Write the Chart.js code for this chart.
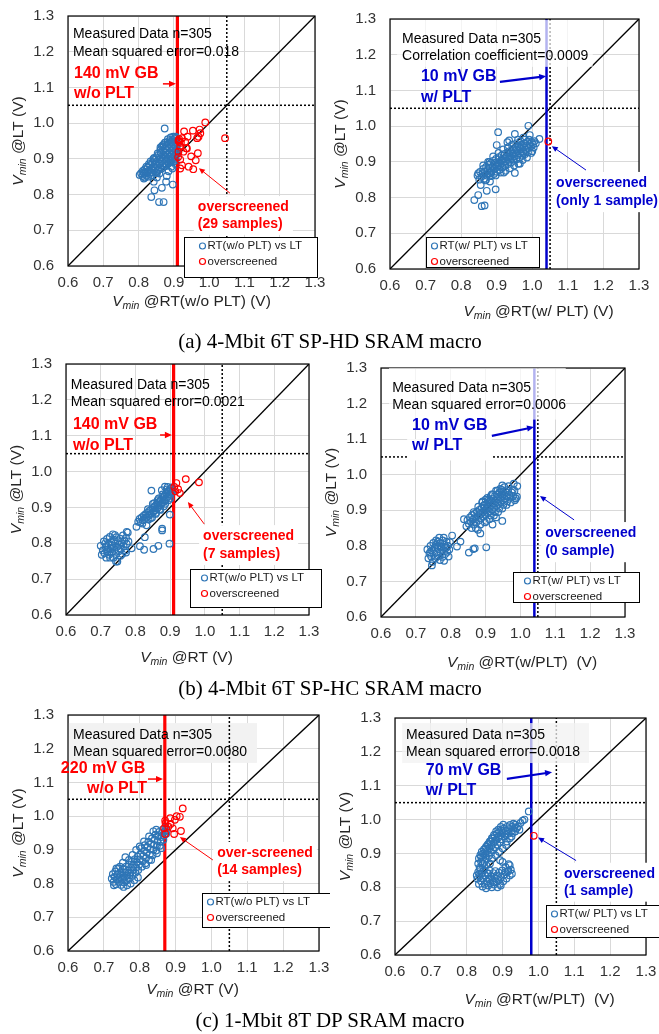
<!DOCTYPE html>
<html>
<head>
<meta charset="utf-8">
<script src="https://cdn.jsdelivr.net/npm/chart.js@4.4.1/dist/chart.umd.min.js"></script>
<style>
  body { margin: 0; width: 659px; height: 1034px; overflow: hidden; background: #fff; position: relative; }
  canvas { position: absolute; }
  .cap { position: absolute; left: 0; width: 660px; text-align: center; font: 21px "Liberation Serif", "Times New Roman", serif; color: #000; line-height: 24px; }
</style>
</head>
<body>
<canvas id="c1" width="330" height="345" style="left:0;top:0"></canvas>
<canvas id="c2" width="345" height="345" style="left:314px;top:0"></canvas>
<canvas id="c3" width="330" height="345" style="left:0;top:345px"></canvas>
<canvas id="c4" width="345" height="345" style="left:314px;top:345px"></canvas>
<canvas id="c5" width="330" height="345" style="left:0;top:690px"></canvas>
<canvas id="c6" width="345" height="345" style="left:314px;top:690px"></canvas>
<div class="cap" style="top:329px">(a) 4-Mbit 6T SP-HD SRAM macro</div>
<div class="cap" style="top:676px">(b) 4-Mbit 6T SP-HC SRAM macro</div>
<div class="cap" style="top:1008px">(c) 1-Mbit 8T DP SRAM macro</div>
<script>
// axis ticks (V)
const ticksV = [0.6, 0.7, 0.8, 0.9, 1.0, 1.1, 1.2, 1.3];
const specLimit = 1.05;
// guard-band lines: HD w/o, HD w/, HC w/o, HC w/, DP w/o, DP w/
const gbLines = [0.91, 1.04, 0.91, 1.04, 0.87, 0.98];

// (a) 4-Mbit 6T SP-HD, RT without PLT vs LT
const hdNoPlt = [
  [0.803,0.855],[0.807,0.860],[0.811,0.852],[0.812,0.866],[0.816,0.858],[0.818,0.871],[0.821,0.862],[0.823,0.853],
  [0.826,0.876],[0.828,0.866],[0.831,0.858],[0.833,0.882],[0.835,0.871],[0.837,0.862],[0.839,0.890],[0.841,0.878],
  [0.843,0.868],[0.845,0.897],[0.846,0.885],[0.848,0.874],[0.850,0.904],[0.851,0.892],[0.853,0.880],[0.855,0.869],
  [0.856,0.911],[0.858,0.899],[0.860,0.887],[0.861,0.876],[0.863,0.918],[0.864,0.905],[0.866,0.893],[0.867,0.882],
  [0.869,0.924],[0.870,0.912],[0.872,0.900],[0.873,0.888],[0.875,0.930],[0.876,0.918],[0.877,0.906],[0.879,0.894],
  [0.880,0.936],[0.881,0.924],[0.883,0.912],[0.884,0.900],[0.885,0.888],[0.886,0.942],[0.887,0.930],[0.889,0.918],
  [0.890,0.906],[0.891,0.894],[0.892,0.948],[0.893,0.936],[0.894,0.924],[0.895,0.912],[0.896,0.900],[0.897,0.953],
  [0.898,0.941],[0.899,0.929],[0.900,0.917],[0.901,0.905],[0.902,0.957],[0.903,0.946],[0.904,0.934],[0.905,0.922],
  [0.906,0.910],[0.907,0.960],[0.908,0.950],[0.909,0.938],[0.909,0.926],[0.910,0.915],[0.818,0.848],[0.829,0.885],
  [0.842,0.900],[0.852,0.860],[0.862,0.925],[0.871,0.940],[0.878,0.880],[0.888,0.952],[0.882,0.947],[0.874,0.945],
  [0.866,0.935],[0.874,0.985],[0.843,0.836],[0.845,0.812],[0.836,0.793],[0.858,0.779],[0.871,0.779],[0.866,0.819],
  [0.878,0.836],[0.880,0.852],[0.897,0.828],[0.896,0.873],[0.885,0.865],[0.859,0.859],[0.852,0.848],[0.905,0.885],
  [0.893,0.878],[0.815,0.845],[0.822,0.878],[0.827,0.850],[0.834,0.893],[0.838,0.855],[0.844,0.903],[0.849,0.862],
  [0.854,0.915],[0.857,0.870],[0.862,0.932],[0.865,0.872],[0.868,0.938],[0.871,0.878],[0.876,0.946],[0.879,0.884],
  [0.883,0.955],[0.887,0.890],[0.891,0.960],[0.894,0.895],[0.898,0.962],[0.900,0.893],[0.904,0.962],[0.906,0.898],
  [0.908,0.942],[0.898,0.918],[0.886,0.915],[0.874,0.910],[0.862,0.900],[0.850,0.885],[0.838,0.875],[0.826,0.862],
  [0.814,0.862]
];
const hdNoPltOver = [
  [0.989,1.002],[0.954,0.979],[0.973,0.982],[0.929,0.977],[0.939,0.962],[0.970,0.962],[1.045,0.958],[0.923,0.958],
  [0.913,0.951],[0.916,0.948],[0.918,0.934],[0.937,0.929],[0.927,0.920],[0.949,0.907],[0.968,0.916],[0.962,0.896],
  [0.918,0.898],[0.923,0.882],[0.918,0.873],[0.942,0.878],[0.955,0.871],[0.912,0.905],[0.913,0.920],[0.932,0.948],
  [0.975,0.972],[0.915,0.955],[0.920,0.945],[0.966,0.958],[0.935,0.930]
];
// (a) RT with PLT vs LT
const hdPlt = [
  [0.846,0.862],[0.851,0.850],[0.853,0.872],[0.857,0.858],[0.860,0.868],[0.862,0.880],[0.865,0.853],[0.867,0.873],
  [0.870,0.886],[0.872,0.862],[0.874,0.877],[0.877,0.892],[0.879,0.868],[0.881,0.882],[0.884,0.897],[0.886,0.874],
  [0.888,0.887],[0.890,0.903],[0.892,0.866],[0.894,0.880],[0.896,0.893],[0.898,0.908],[0.900,0.872],[0.902,0.886],
  [0.904,0.899],[0.906,0.913],[0.908,0.878],[0.910,0.891],[0.912,0.904],[0.914,0.918],[0.916,0.884],[0.918,0.897],
  [0.920,0.910],[0.922,0.922],[0.924,0.889],[0.926,0.902],[0.928,0.915],[0.930,0.927],[0.932,0.894],[0.934,0.906],
  [0.936,0.919],[0.938,0.931],[0.940,0.898],[0.942,0.911],[0.944,0.923],[0.946,0.936],[0.948,0.903],[0.950,0.915],
  [0.952,0.927],[0.954,0.940],[0.956,0.907],[0.958,0.919],[0.960,0.931],[0.962,0.944],[0.964,0.912],[0.966,0.924],
  [0.968,0.936],[0.970,0.948],[0.972,0.917],[0.974,0.929],[0.976,0.941],[0.978,0.952],[0.980,0.922],[0.982,0.934],
  [0.984,0.945],[0.986,0.956],[0.988,0.927],[0.990,0.939],[0.993,0.950],[0.996,0.944],[0.999,0.955],[1.002,0.949],
  [1.006,0.958],[1.010,0.952],[0.904,0.983],[0.989,1.001],[0.951,0.978],[0.993,0.975],[0.900,0.947],[0.858,0.776],
  [0.866,0.778],[0.837,0.793],[0.848,0.807],[0.872,0.819],[0.897,0.823],[0.881,0.845],[0.951,0.869],[0.848,0.868],
  [0.930,0.955],[0.960,0.962],[1.020,0.964],[0.880,0.900],[0.920,0.870],[0.965,0.895],[0.855,0.835],[0.870,0.850],
  [1.000,0.930],[0.935,0.960],[0.975,0.968],
  [0.862,0.890],[0.868,0.848],[0.876,0.900],[0.883,0.860],[0.890,0.915],[0.897,0.862],[0.905,0.925],[0.911,0.870],
  [0.918,0.935],[0.925,0.875],[0.931,0.940],[0.937,0.882],[0.943,0.948],[0.949,0.890],[0.955,0.952],[0.961,0.895],
  [0.967,0.958],[0.973,0.905],[0.979,0.962],[0.985,0.912],[0.991,0.962],[0.997,0.925],[1.004,0.940],[0.915,0.905],
  [0.945,0.925],[0.935,0.913],[0.955,0.935],[0.905,0.890],[0.925,0.900],[0.965,0.940],[0.975,0.925],[0.885,0.870]
];
const hdPltOver = [[1.045,0.957]];

// (b) 4-Mbit 6T SP-HC, RT without PLT vs LT
const hcNoPlt = [
  [0.700,0.793],[0.703,0.768],[0.706,0.780],[0.709,0.805],[0.711,0.772],[0.714,0.790],[0.716,0.760],[0.718,0.812],
  [0.720,0.782],[0.722,0.798],[0.724,0.768],[0.726,0.818],[0.728,0.786],[0.730,0.804],[0.732,0.774],[0.733,0.795],
  [0.735,0.825],[0.737,0.760],[0.738,0.810],[0.740,0.782],[0.742,0.800],[0.744,0.770],[0.745,0.817],[0.747,0.790],
  [0.748,0.749],[0.750,0.806],[0.752,0.778],[0.754,0.796],[0.756,0.813],[0.758,0.785],[0.760,0.800],[0.762,0.770],
  [0.764,0.822],[0.766,0.792],[0.768,0.808],[0.771,0.780],[0.773,0.815],[0.775,0.798],[0.778,0.830],[0.780,0.805],
  [0.713,0.800],[0.727,0.760],[0.741,0.823],[0.757,0.765],[0.719,0.776],[0.734,0.788],
  [0.808,0.860],[0.812,0.868],[0.815,0.858],[0.818,0.872],[0.821,0.864],[0.824,0.877],[0.826,0.867],[0.829,0.881],
  [0.832,0.872],[0.834,0.885],[0.837,0.876],[0.840,0.890],[0.842,0.880],[0.845,0.894],[0.847,0.884],[0.850,0.899],
  [0.852,0.888],[0.855,0.903],[0.857,0.892],[0.860,0.908],[0.862,0.897],[0.864,0.912],[0.866,0.901],[0.869,0.917],
  [0.871,0.906],[0.873,0.921],[0.875,0.910],[0.877,0.926],[0.879,0.914],[0.881,0.930],[0.883,0.919],[0.885,0.935],
  [0.887,0.923],[0.889,0.940],[0.891,0.928],[0.893,0.944],[0.895,0.932],[0.897,0.948],[0.899,0.936],[0.901,0.952],
  [0.903,0.941],[0.905,0.956],[0.907,0.945],[0.885,0.958],[0.876,0.948],[0.893,0.957],[0.860,0.885],[0.848,0.872],
  [0.870,0.895],[0.895,0.920],[0.838,0.866],[0.882,0.903],[0.867,0.925],[0.854,0.912],
  [0.846,0.947],[0.899,0.880],[0.877,0.841],[0.877,0.836],[0.827,0.817],[0.813,0.792],[0.825,0.782],[0.852,0.784],
  [0.866,0.793],[0.898,0.799],[0.789,0.786],[0.775,0.832],[0.803,0.846],[0.773,0.774],[0.744,0.749],[0.820,0.855],
  [0.832,0.850],[0.844,0.870],[0.858,0.882],[0.872,0.893],[0.886,0.910],[0.900,0.925],[0.878,0.936],[0.864,0.920],
  [0.850,0.910],[0.890,0.950],[0.836,0.895]
];
const hcNoPltOver = [[0.918,0.968],[0.945,0.979],[0.983,0.970],[0.912,0.957],[0.915,0.945],[0.923,0.951],[0.928,0.940]];
// (b) RT with PLT vs LT
const hcPlt = [
  [0.733,0.790],[0.736,0.765],[0.739,0.778],[0.742,0.800],[0.744,0.770],[0.746,0.787],[0.748,0.755],[0.750,0.808],
  [0.752,0.778],[0.754,0.795],[0.756,0.765],[0.758,0.815],[0.760,0.783],[0.762,0.800],[0.764,0.772],[0.765,0.792],
  [0.767,0.823],[0.769,0.760],[0.770,0.808],[0.772,0.781],[0.774,0.798],[0.776,0.769],[0.777,0.815],[0.779,0.788],
  [0.781,0.758],[0.782,0.803],[0.784,0.777],[0.786,0.794],[0.788,0.812],[0.790,0.783],[0.792,0.800],[0.794,0.770],
  [0.796,0.790],[0.798,0.810],[0.746,0.745],[0.757,0.803],[0.771,0.796],[0.780,0.823],[0.763,0.812],[0.741,0.782],
  [0.848,0.872],[0.852,0.862],[0.855,0.880],[0.858,0.868],[0.861,0.886],[0.863,0.874],[0.866,0.860],[0.868,0.890],
  [0.870,0.878],[0.873,0.866],[0.875,0.896],[0.877,0.884],[0.880,0.871],[0.882,0.901],[0.884,0.889],[0.886,0.877],
  [0.889,0.907],[0.891,0.894],[0.893,0.882],[0.895,0.912],[0.897,0.899],[0.899,0.887],[0.902,0.918],[0.904,0.905],
  [0.906,0.892],[0.908,0.923],[0.910,0.910],[0.912,0.897],[0.914,0.928],[0.917,0.915],[0.919,0.902],[0.921,0.933],
  [0.923,0.920],[0.925,0.907],[0.927,0.940],[0.929,0.926],[0.931,0.912],[0.933,0.945],[0.935,0.931],[0.937,0.918],
  [0.940,0.950],[0.942,0.936],[0.944,0.923],[0.946,0.957],[0.948,0.941],[0.950,0.928],[0.953,0.946],[0.955,0.933],
  [0.958,0.952],[0.961,0.939],[0.964,0.957],[0.968,0.945],[0.972,0.935],[0.975,0.950],[0.979,0.940],[0.983,0.955],
  [0.987,0.933],[0.990,0.938],[0.981,0.975],[0.991,0.968],[0.948,0.970],[0.915,0.940],[0.900,0.930],[0.890,0.922],
  [0.804,0.829],[0.828,0.812],[0.818,0.798],[0.852,0.781],[0.865,0.791],[0.869,0.793],[0.902,0.796],[0.885,0.835],
  [0.878,0.845],[0.948,0.870],[0.986,0.934],[0.838,0.875],[0.845,0.855],[0.920,0.860],[0.930,0.880],
  [0.860,0.850],[0.866,0.895],[0.872,0.850],[0.879,0.910],[0.885,0.860],[0.892,0.925],[0.898,0.866],[0.905,0.935],
  [0.911,0.875],[0.918,0.945],[0.924,0.885],[0.930,0.955],[0.936,0.895],[0.942,0.960],[0.948,0.905],[0.954,0.965],
  [0.960,0.915],[0.966,0.968],[0.972,0.922],[0.978,0.958],[0.984,0.928],[0.903,0.870],[0.915,0.885],[0.927,0.895],
  [0.939,0.905],[0.951,0.915],[0.962,0.925],[0.896,0.915],[0.909,0.930],[0.921,0.945],[0.934,0.955],[0.945,0.945]
];
const hcPltOver = [];

// (c) 1-Mbit 8T DP, RT without PLT vs LT
const dpNoPlt = [
  [0.722,0.815],[0.725,0.828],[0.727,0.805],[0.730,0.820],[0.732,0.836],[0.734,0.798],[0.736,0.812],[0.738,0.827],
  [0.740,0.845],[0.742,0.805],[0.744,0.819],[0.746,0.834],[0.748,0.796],[0.750,0.812],[0.752,0.826],[0.754,0.842],
  [0.756,0.803],[0.758,0.818],[0.760,0.833],[0.762,0.850],[0.764,0.810],[0.766,0.824],[0.768,0.840],[0.770,0.857],
  [0.772,0.815],[0.774,0.832],[0.776,0.848],[0.778,0.865],[0.780,0.823],[0.782,0.840],[0.784,0.856],[0.786,0.872],
  [0.788,0.832],[0.790,0.848],[0.792,0.864],[0.794,0.880],[0.796,0.840],[0.798,0.856],[0.800,0.872],[0.802,0.888],
  [0.804,0.905],[0.806,0.850],[0.808,0.866],[0.810,0.882],[0.812,0.898],[0.814,0.914],[0.816,0.860],[0.818,0.876],
  [0.820,0.892],[0.822,0.908],[0.824,0.924],[0.826,0.870],[0.828,0.886],[0.830,0.902],[0.832,0.918],[0.834,0.934],
  [0.836,0.884],[0.838,0.900],[0.840,0.915],[0.842,0.930],[0.844,0.945],[0.846,0.898],[0.848,0.912],[0.850,0.926],
  [0.852,0.940],[0.854,0.953],[0.856,0.912],[0.858,0.925],[0.860,0.938],[0.862,0.950],[0.864,0.960],[0.866,0.930],
  [0.868,0.943],[0.870,0.955],[0.872,0.966],[0.874,0.948],[0.876,0.958],[0.846,0.960],[0.838,0.955],
  [0.728,0.795],[0.735,0.845],[0.745,0.850],[0.755,0.790],[0.765,0.795],[0.775,0.800],[0.785,0.810],[0.795,0.818],
  [0.760,0.878],[0.753,0.862],[0.770,0.870],[0.780,0.885],[0.790,0.900],[0.800,0.910],[0.812,0.925],[0.826,0.940],
  [0.818,0.855],[0.832,0.870],[0.848,0.890],[0.860,0.905]
];
const dpNoPltOver = [
  [0.920,1.023],[0.912,0.998],[0.898,0.989],[0.885,0.994],[0.871,0.987],[0.872,0.979],[0.886,0.977],
  [0.880,0.969],[0.892,0.964],[0.871,0.947],[0.896,0.947],[0.915,0.956],[0.868,0.964],[0.903,1.000]
];
// (c) RT with PLT vs LT
const dpPlt = [
  [0.832,0.870],[0.834,0.885],[0.836,0.858],[0.838,0.895],[0.840,0.876],[0.842,0.905],[0.844,0.865],[0.846,0.888],
  [0.848,0.912],[0.850,0.875],[0.852,0.898],[0.854,0.920],[0.856,0.884],[0.858,0.907],[0.860,0.928],[0.862,0.893],
  [0.864,0.915],[0.866,0.936],[0.868,0.902],[0.870,0.924],[0.872,0.944],[0.874,0.910],[0.876,0.932],[0.878,0.952],
  [0.880,0.918],[0.882,0.940],[0.884,0.958],[0.886,0.926],[0.888,0.947],[0.890,0.963],[0.892,0.934],[0.894,0.954],
  [0.896,0.968],[0.898,0.942],[0.900,0.960],[0.903,0.973],[0.906,0.950],[0.909,0.966],[0.912,0.978],[0.915,0.958],
  [0.918,0.972],[0.921,0.984],[0.924,0.965],[0.927,0.979],[0.930,0.988],[0.933,0.975],[0.936,0.985],[0.920,0.945],
  [0.912,0.935],
  [0.830,0.825],[0.832,0.845],[0.834,0.810],[0.836,0.832],[0.838,0.855],[0.840,0.818],[0.842,0.840],[0.844,0.802],
  [0.846,0.826],[0.848,0.850],[0.850,0.810],[0.852,0.834],[0.854,0.797],[0.856,0.818],[0.858,0.842],[0.860,0.805],
  [0.862,0.826],[0.864,0.850],[0.866,0.812],[0.868,0.833],[0.870,0.800],[0.872,0.820],[0.874,0.842],[0.876,0.808],
  [0.878,0.828],[0.880,0.848],[0.882,0.815],[0.884,0.835],[0.886,0.800],[0.888,0.822],[0.890,0.843],[0.893,0.810],
  [0.896,0.830],[0.899,0.850],[0.902,0.818],[0.905,0.838],[0.908,0.860],[0.911,0.826],[0.914,0.846],[0.917,0.868],
  [0.920,0.835],[0.923,0.852],[0.900,0.875],[0.893,0.880],[0.855,0.865],[0.845,0.870],[0.865,0.870],
  [0.973,1.024],[0.961,1.000],[0.956,0.997],[0.947,0.970],[0.916,0.849],[0.940,0.975],[0.928,0.960],[0.950,0.990],
  [0.840,0.890],[0.846,0.900],[0.852,0.915],[0.858,0.925],[0.864,0.935],[0.870,0.945],[0.876,0.955],[0.882,0.965],
  [0.888,0.970],[0.895,0.978],[0.902,0.985],[0.908,0.955],[0.925,0.950],[0.935,0.965],[0.943,0.980],[0.870,0.885],
  [0.880,0.895],[0.890,0.905],[0.900,0.915],[0.910,0.925],[0.835,0.840],[0.828,0.835],[0.926,0.840],[0.920,0.865],
  [0.860,0.840],[0.875,0.815],[0.895,0.805],[0.908,0.845]
];
const dpPltOver = [[0.987,0.952]];

const FONT = '"Liberation Sans", Arial, sans-serif';
const RED = '#ff0000';
const NAVY = '#0000cc';
const DOT_BLUE = '#2e75b6';

const panels = [
  { id: 'c1', cx: 0, cy: 0, cw: 330, area: [68, 16, 315, 266], blue: hdNoPlt, red: hdNoPltOver, gb: gbLines[0], color: RED,
    xTitle: ' @RT(w/o PLT) (V)', xdx: 0, xdy: 36,
    info: ['Measured Data n=305', 'Mean squared error=0.018'], infoAt: [0.614, 1.250, 1.199], box: null,
    gbText: ['140 mV GB', 'w/o PLT'], gbAt: [[0.617, 1.140], [0.617, 1.082]], gbArrow: [0.869, 1.110, 0.906, 1.110], gbW: 1.5,
    osText: ['overscreened', '(29 samples)'], osAt: [0.968, 0.765, 0.718], osArrow: [1.059, 0.804, 0.971, 0.874],
    legend: [0.929, 0.681, 1.306, 0.569], legDx: 18, legLabel: 'RT(w/o PLT) vs LT' },
  { id: 'c2', cx: 314, cy: 0, cw: 345, area: [390, 19, 639, 269], blue: hdPlt, red: hdPltOver, gb: gbLines[1], color: NAVY,
    xTitle: ' @RT(w/ PLT) (V)', xdx: 24, xdy: 43,
    info: ['Measured Data n=305', 'Correlation coefficient=0.0009'], infoAt: [0.634, 1.244, 1.196],
    box: { r: [0.62, 1.297, 1.17, 1.166], fill: 'rgba(255,255,255,0.7)', over: true },
    gbText: ['10 mV GB', 'w/ PLT'], gbAt: [[0.687, 1.140], [0.687, 1.081]], gbArrow: [0.909, 1.124, 1.039, 1.140], gbW: 2.2,
    osText: ['overscreened', '(only 1 sample)'], osAt: [1.067, 0.841, 0.790], osArrow: [1.151, 0.877, 1.055, 0.944],
    legend: [0.701, 0.690, 1.019, 0.606], legDx: 8, legLabel: 'RT(w/ PLT) vs LT' },
  { id: 'c3', cx: 0, cy: 345, cw: 330, area: [66, 364, 309, 615], blue: hcNoPlt, red: hcNoPltOver, gb: gbLines[2], color: RED,
    xTitle: ' @RT (V)', xdx: -1, xdy: 43,
    info: ['Measured Data n=305', 'Mean squared error=0.0021'], infoAt: [0.614, 1.241, 1.194], box: null,
    gbText: ['140 mV GB', 'w/o PLT'], gbAt: [[0.620, 1.130], [0.620, 1.072]], gbArrow: [0.871, 1.102, 0.905, 1.102], gbW: 1.5,
    osText: ['overscreened', '(7 samples)'], osAt: [0.995, 0.820, 0.770], osArrow: [0.998, 0.854, 0.951, 0.915],
    legend: [0.957, 0.728, 1.335, 0.622], legDx: 14, legLabel: 'RT(w/o PLT) vs LT' },
  { id: 'c4', cx: 314, cy: 345, cw: 345, area: [381, 368, 625, 617], blue: hcPlt, red: hcPltOver, gb: gbLines[3], color: NAVY,
    xTitle: ' @RT(w/PLT)  (V)', xdx: 19, xdy: 46,
    info: ['Measured Data n=305', 'Mean squared error=0.0006'], infoAt: [0.632, 1.244, 1.196],
    box: { r: [0.623, 1.30, 1.13, 1.155], fill: 'rgba(255,255,255,0.7)', over: true },
    gbBox: [0.675, 1.10, 0.918, 1.04],
    gbText: ['10 mV GB', 'w/ PLT'], gbAt: [[0.689, 1.137], [0.689, 1.081]], gbArrow: [0.918, 1.109, 1.039, 1.134], gbW: 2.2,
    osText: ['overscreened', '(0 sample)'], osAt: [1.071, 0.836, 0.785], osArrow: [1.154, 0.873, 1.056, 0.940],
    legend: [0.979, 0.727, 1.340, 0.641], legDx: 14, legLabel: 'RT(w/ PLT) vs LT' },
  { id: 'c5', cx: 0, cy: 690, cw: 330, area: [68, 715, 319, 951], blue: dpNoPlt, red: dpNoPltOver, gb: gbLines[4], color: RED,
    xTitle: ' @RT (V)', xdx: -1, xdy: 39,
    info: ['Measured Data n=305', 'Mean squared error=0.0080'], infoAt: [0.614, 1.241, 1.191],
    box: { r: [0.6, 1.276, 1.127, 1.158], fill: '#f2f2f2', over: false },
    gbText: ['220 mV GB', 'w/o PLT'], gbAt: [[0.580, 1.140], [0.653, 1.081]], gbArrow: [0.823, 1.110, 0.865, 1.110], gbW: 1.5,
    osText: ['over-screened', '(14 samples)'], osAt: [1.016, 0.891, 0.840], osArrow: [1.004, 0.870, 0.912, 0.938],
    legend: [0.974, 0.772, 1.331, 0.671], legDx: 8, legLabel: 'RT(w/o PLT) vs LT' },
  { id: 'c6', cx: 314, cy: 690, cw: 345, area: [395, 718, 646, 955], blue: dpPlt, red: dpPltOver, gb: gbLines[5], color: NAVY,
    xTitle: ' @RT(w/PLT)  (V)', xdx: 19, xdy: 45,
    info: ['Measured Data n=305', 'Mean squared error=0.0018'], infoAt: [0.631, 1.250, 1.200],
    box: { r: [0.620, 1.285, 1.141, 1.167], fill: 'rgba(242,242,242,0.75)', over: true },
    gbText: ['70 mV GB', 'w/ PLT'], gbAt: [[0.686, 1.146], [0.686, 1.087]], gbArrow: [0.912, 1.120, 1.038, 1.140], gbW: 2.2,
    osText: ['overscreened', '(1 sample)'], osAt: [1.071, 0.840, 0.790], osArrow: [1.105, 0.879, 0.999, 0.947],
    legend: [1.021, 0.748, 1.336, 0.653], legDx: 8, legLabel: 'RT(w/ PLT) vs LT' }
];

function arrow(ctx, x1, y1, x2, y2, color, w, head) {
  const a = Math.atan2(y2 - y1, x2 - x1);
  const c = Math.cos(a), s = Math.sin(a);
  ctx.strokeStyle = color;
  ctx.lineWidth = w;
  ctx.beginPath();
  ctx.moveTo(x1, y1);
  ctx.lineTo(x2 - c * head * 0.8, y2 - s * head * 0.8);
  ctx.stroke();
  ctx.fillStyle = color;
  ctx.beginPath();
  ctx.moveTo(x2, y2);
  ctx.lineTo(x2 - head * c + head * 0.45 * s, y2 - head * s - head * 0.45 * c);
  ctx.lineTo(x2 - head * c - head * 0.45 * s, y2 - head * s + head * 0.45 * c);
  ctx.closePath();
  ctx.fill();
}

function vminText(ctx, cx, cy, suffix, size) {
  const sub = size * 0.68;
  ctx.font = `italic ${size}px ${FONT}`;
  const wV = ctx.measureText('V').width;
  ctx.font = `italic ${sub}px ${FONT}`;
  const wM = ctx.measureText('min').width;
  ctx.font = `${size}px ${FONT}`;
  const wS = ctx.measureText(suffix).width;
  let x = cx - (wV + wM + wS) / 2;
  ctx.textAlign = 'left';
  ctx.textBaseline = 'middle';
  ctx.font = `italic ${size}px ${FONT}`;
  ctx.fillText('V', x, cy);
  x += wV;
  ctx.font = `italic ${sub}px ${FONT}`;
  ctx.fillText('min', x, cy + size * 0.28);
  x += wM;
  ctx.font = `${size}px ${FONT}`;
  ctx.fillText(suffix, x, cy);
}

function makeDecor(p) {
  const fillRectV = (chart, r, fill) => {
    const X = v => chart.scales.x.getPixelForValue(v), Y = v => chart.scales.y.getPixelForValue(v);
    chart.ctx.fillStyle = fill;
    chart.ctx.fillRect(X(r[0]), Y(r[1]), X(r[2]) - X(r[0]), Y(r[3]) - Y(r[1]));
  };
  return {
    id: 'decor',
    beforeDatasetsDraw(chart) {
      if (p.box && !p.box.over) fillRectV(chart, p.box.r, p.box.fill);
    },
    afterDraw(chart) {
      const ctx = chart.ctx, a = chart.chartArea;
      const X = v => chart.scales.x.getPixelForValue(v), Y = v => chart.scales.y.getPixelForValue(v);
      ctx.save();
      ctx.strokeStyle = '#000';
      ctx.lineWidth = 1.2;
      ctx.strokeRect(a.left, a.top, a.right - a.left, a.bottom - a.top);
      if (p.box && p.box.over) fillRectV(chart, p.box.r, p.box.fill);
      if (p.gbBox) fillRectV(chart, p.gbBox, '#fff');

      ctx.textAlign = 'left';
      ctx.textBaseline = 'middle';
      ctx.fillStyle = '#000';
      ctx.font = `14px ${FONT}`;
      ctx.fillText(p.info[0], X(p.infoAt[0]), Y(p.infoAt[1]));
      ctx.fillText(p.info[1], X(p.infoAt[0]), Y(p.infoAt[2]));

      ctx.fillStyle = p.color;
      ctx.font = `bold 16px ${FONT}`;
      p.gbText.forEach((t, i) => ctx.fillText(t, X(p.gbAt[i][0]), Y(p.gbAt[i][1])));
      arrow(ctx, X(p.gbArrow[0]), Y(p.gbArrow[1]), X(p.gbArrow[2]), Y(p.gbArrow[3]), p.color, p.gbW, 7);

      ctx.font = `bold 14px ${FONT}`;
      const ox = X(p.osAt[0]), oy1 = Y(p.osAt[1]), oy2 = Y(p.osAt[2]);
      const ow = Math.max(ctx.measureText(p.osText[0]).width, ctx.measureText(p.osText[1]).width);
      ctx.fillStyle = '#fff';
      ctx.fillRect(ox - 4, oy1 - 11, ow + 8, oy2 - oy1 + 22);
      ctx.fillStyle = p.color;
      ctx.fillText(p.osText[0], ox, oy1);
      ctx.fillText(p.osText[1], ox, oy2);
      arrow(ctx, X(p.osArrow[0]), Y(p.osArrow[1]), X(p.osArrow[2]), Y(p.osArrow[3]), p.color, 1, 6);

      // legend box
      const lx0 = Math.round(X(p.legend[0])) + 0.5, ly0 = Math.round(Y(p.legend[1])) + 0.5;
      const lx1 = Math.round(X(p.legend[2])) + 0.5, ly1 = Math.round(Y(p.legend[3])) + 0.5;
      ctx.fillStyle = '#fff';
      ctx.fillRect(lx0, ly0, lx1 - lx0, ly1 - ly0);
      ctx.strokeStyle = '#000';
      ctx.lineWidth = 1;
      ctx.strokeRect(lx0, ly0, lx1 - lx0, ly1 - ly0);
      ctx.font = `11.5px ${FONT}`;
      [[DOT_BLUE, p.legLabel, 8.5], [RED, 'overscreened', 24]].forEach(([c, t, dy]) => {
        ctx.strokeStyle = c;
        ctx.lineWidth = 1.2;
        ctx.beginPath();
        ctx.arc(lx0 + p.legDx, ly0 + dy, 3, 0, Math.PI * 2);
        ctx.stroke();
        ctx.fillStyle = '#1a1a1a';
        ctx.fillText(t, lx0 + p.legDx + 5, ly0 + dy);
      });

      // axis titles
      ctx.fillStyle = '#262626';
      vminText(ctx, (a.left + a.right) / 2 + p.xdx, a.bottom + p.xdy, p.xTitle, 15.5);
      ctx.translate(a.left - 49, (a.top + a.bottom) / 2);
      ctx.rotate(-Math.PI / 2);
      vminText(ctx, 0, 0, ' @LT (V)', 15.5);
      ctx.restore();
    }
  };
}

const toXY = arr => arr.map(([x, y]) => ({ x, y }));
const lo = ticksV[0], hi = ticksV[ticksV.length - 1];

panels.forEach(p => {
  const [L, T, R, B] = p.area;
  const tickFont = { family: FONT, size: 15 };
  new Chart(document.getElementById(p.id), {
    type: 'scatter',
    data: {
      datasets: [
        { data: toXY(p.red), order: 0, pointRadius: 3.3, pointBorderWidth: 1.2,
          borderColor: RED, backgroundColor: 'rgba(0,0,0,0)' },
        { data: toXY(p.blue), order: 1, pointRadius: 3.3, pointBorderWidth: 1.2,
          borderColor: DOT_BLUE, backgroundColor: 'rgba(0,0,0,0)' },
        { data: [{ x: p.gb, y: lo }, { x: p.gb, y: hi }], order: 2, showLine: true, pointRadius: 0,
          borderColor: p.color, borderWidth: p.color === RED ? 3.2 : 2.5 },
        { data: [{ x: lo, y: lo }, { x: hi, y: hi }], order: 3, showLine: true, pointRadius: 0,
          borderColor: '#000', borderWidth: 1.3 },
        { data: [{ x: specLimit, y: lo }, { x: specLimit, y: hi }], order: 4, showLine: true, pointRadius: 0,
          borderColor: '#000', borderWidth: 1.5, borderDash: [2, 2] },
        { data: [{ x: lo, y: specLimit }, { x: hi, y: specLimit }], order: 5, showLine: true, pointRadius: 0,
          borderColor: '#000', borderWidth: 1.5, borderDash: [2, 2] }
      ]
    },
    options: {
      responsive: false,
      animation: false,
      events: [],
      layout: { padding: { left: L - p.cx - 50, top: T - p.cy, right: p.cx + p.cw - R, bottom: p.cy + 345 - B - 40 } },
      plugins: { legend: { display: false }, tooltip: { enabled: false } },
      scales: {
        x: {
          type: 'linear', min: lo, max: hi,
          afterBuildTicks: s => { s.ticks = ticksV.map(v => ({ value: v })); },
          afterFit: s => { s.height = 40; s.paddingLeft = 0; s.paddingRight = 0; },
          ticks: { callback: v => v.toFixed(1), font: tickFont, color: '#333', padding: 8, maxRotation: 0, autoSkip: false },
          grid: { color: '#d9d9d9', drawTicks: false },
          border: { display: false }
        },
        y: {
          type: 'linear', min: lo, max: hi,
          afterBuildTicks: s => { s.ticks = ticksV.map(v => ({ value: v })); },
          afterFit: s => { s.width = 50; s.paddingTop = 0; s.paddingBottom = 0; },
          ticks: { callback: v => v.toFixed(1), font: tickFont, color: '#333', padding: 14, autoSkip: false },
          grid: { color: '#d9d9d9', drawTicks: false },
          border: { display: false }
        }
      }
    },
    plugins: [makeDecor(p)]
  });
});
</script>
</body>
</html>
